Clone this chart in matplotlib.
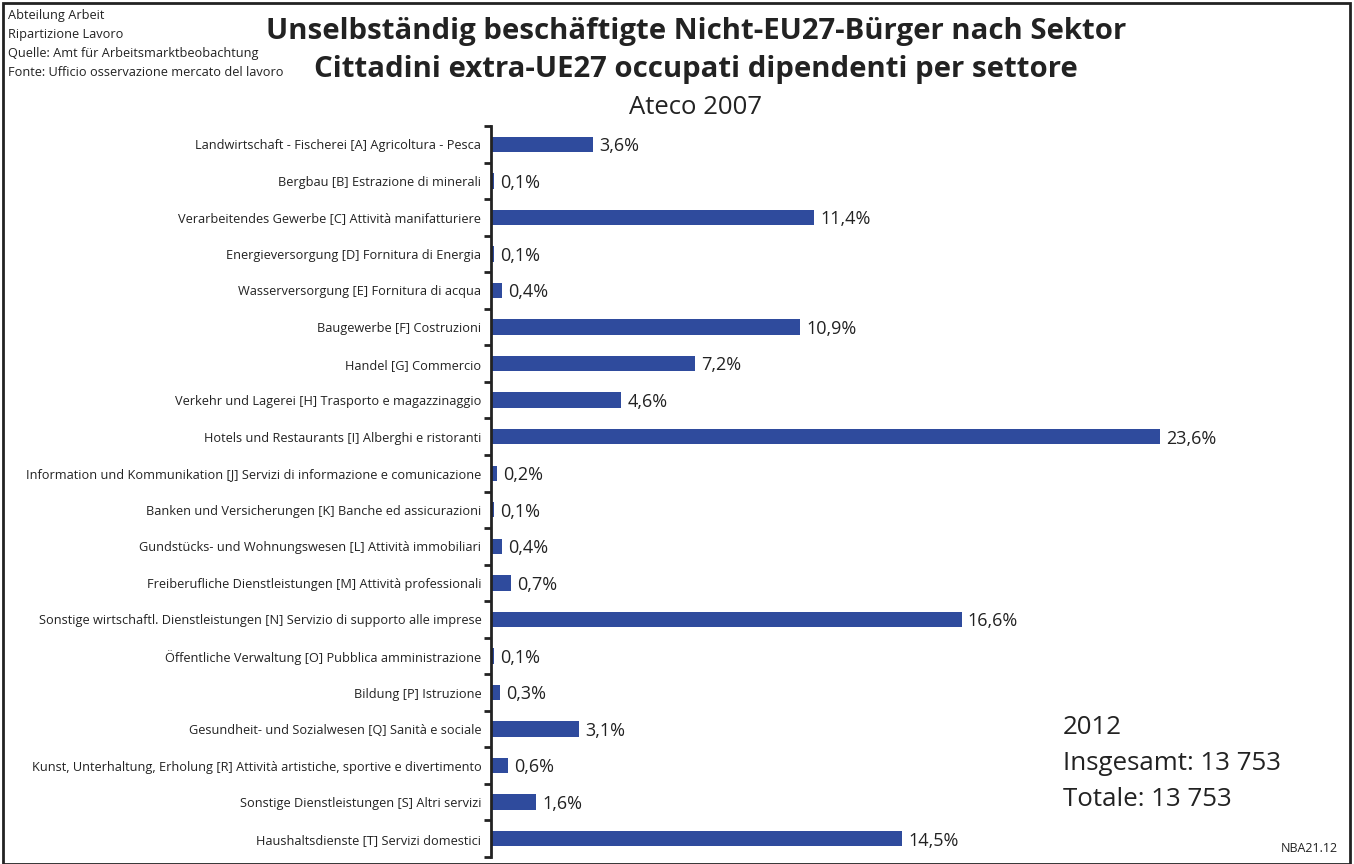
import matplotlib.pyplot as plt
import numpy as np
from matplotlib.patches import Rectangle

plt.rcParams['font.family'] = ['Open Sans', 'DejaVu Sans']

sectors = [
    'Landwirtschaft - Fischerei [A] Agricoltura - Pesca',
    'Bergbau [B] Estrazione di minerali',
    'Verarbeitendes Gewerbe [C] Attività manifatturiere',
    'Energieversorgung [D] Fornitura di Energia',
    'Wasserversorgung [E] Fornitura di acqua',
    'Baugewerbe [F] Costruzioni',
    'Handel [G] Commercio',
    'Verkehr und Lagerei [H] Trasporto e magazzinaggio',
    'Hotels und Restaurants [I] Alberghi e ristoranti',
    'Information und Kommunikation [J] Servizi di informazione e comunicazione',
    'Banken und Versicherungen [K] Banche ed assicurazioni',
    'Gundstücks- und Wohnungswesen [L] Attività immobiliari',
    'Freiberufliche Dienstleistungen [M] Attività professionali',
    'Sonstige wirtschaftl. Dienstleistungen [N] Servizio di supporto alle imprese',
    'Öffentliche Verwaltung [O] Pubblica amministrazione',
    'Bildung [P] Istruzione',
    'Gesundheit- und Sozialwesen [Q] Sanità e sociale',
    'Kunst, Unterhaltung, Erholung [R] Attività artistiche, sportive e divertimento',
    'Sonstige Dienstleistungen [S] Altri servizi',
    'Haushaltsdienste [T] Servizi domestici',
]
shares = [3.6, 0.1, 11.4, 0.1, 0.4, 10.9, 7.2, 4.6, 23.6, 0.2,
          0.1, 0.4, 0.7, 16.6, 0.1, 0.3, 3.1, 0.6, 1.6, 14.5]

fig = plt.figure(figsize=(13.54, 8.64), dpi=100)
fig.patches.append(Rectangle((0.002, 0.0), 0.995, 0.996, transform=fig.transFigure,
                             fill=False, edgecolor='#222222', linewidth=2))

ax = fig.add_axes([491 / 1354, 7 / 864, 30 * 28.35 / 1354, 731 / 864])
y = np.arange(len(sectors))
ax.barh(y, shares, height=0.42, color='#2f4b9d')
for yi, v in zip(y, shares):
    ax.text(v + 0.22, yi + 0.05, f'{v:.1f}%'.replace('.', ','), va='center', ha='left',
            fontsize=13, color='#222222')

ax.set_ylim(len(sectors) - 0.5, -0.5)
ax.set_xlim(0, 30)
ax.set_yticks(y)
ax.set_yticklabels(sectors, fontsize=9.2, color='#222222')
ax.tick_params(axis='y', which='major', length=0, pad=7)
ax.set_yticks(np.arange(-0.5, len(sectors)), minor=True)
ax.tick_params(axis='y', which='minor', length=5, width=2, color='#222222')
ax.set_xticks([])
for s in ['top', 'right', 'bottom']:
    ax.spines[s].set_visible(False)
ax.spines['left'].set_linewidth(2)
ax.spines['left'].set_color('#222222')

fig.text(0.514, 0.964, 'Unselbständig beschäftigte Nicht-EU27-Bürger nach Sektor',
         ha='center', va='center', fontsize=21.2, fontweight='bold', color='#222222')
fig.text(0.514, 0.919, 'Cittadini extra-UE27 occupati dipendenti per settore',
         ha='center', va='center', fontsize=21.2, fontweight='bold', color='#222222')
fig.text(0.514, 0.875, 'Ateco 2007', ha='center', va='center', fontsize=18.5, color='#222222')

header = ['Abteilung Arbeit', 'Ripartizione Lavoro',
          'Quelle: Amt für Arbeitsmarktbeobachtung',
          'Fonte: Ufficio osservazione mercato del lavoro']
for i, line in enumerate(header):
    fig.text(8 / 1354, 1 - (15 + i * 19.3) / 864, line, ha='left', va='center',
             fontsize=9.2, color='#222222')

summary = ['2012', 'Insgesamt: 13 753', 'Totale: 13 753']
for i, line in enumerate(summary):
    fig.text(1063 / 1354, 1 - (728 + i * 35.5) / 864, line, ha='left', va='center',
             fontsize=18.6, color='#222222')

fig.text(1338 / 1354, 1 - 849 / 864, 'NBA21.12', ha='right', va='center',
         fontsize=9, color='#222222')

fig.savefig('out.png', dpi=100)
